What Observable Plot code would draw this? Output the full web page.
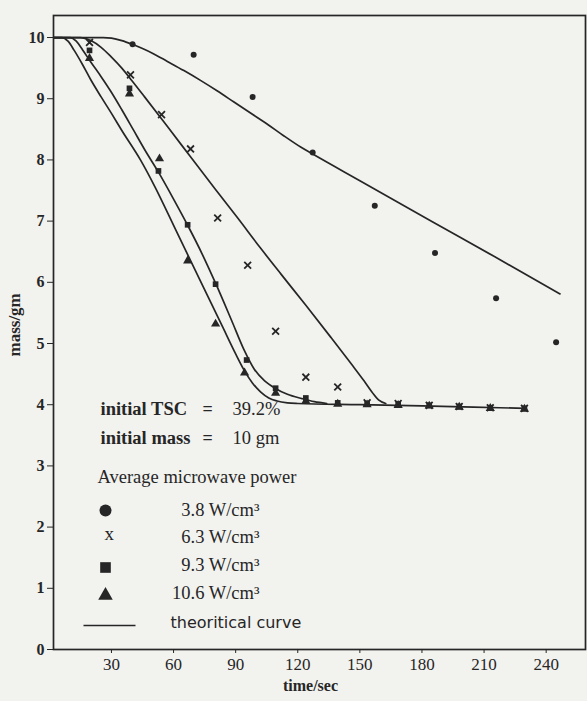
<!DOCTYPE html>
<html><head><meta charset="utf-8">
<script src="https://cdn.jsdelivr.net/npm/d3@7"></script>
<script src="https://cdn.jsdelivr.net/npm/@observablehq/plot@0.6"></script>
<style>
html,body{margin:0;padding:0;background:#f2f2ef;}
#chart{width:587px;height:701px;overflow:hidden;}
</style></head><body><div id="chart"></div>
<script>
// ---- tick labels ----
const xTicks = [30, 60, 90, 120, 150, 180, 210, 240];
const yTicks = [0, 1, 2, 3, 4, 5, 6, 7, 8, 9, 10];

// ---- measured points (time/sec, mass/gm) ----
const p38T = [40.2, 69.7, 98.2, 127.2, 157.2, 186.3, 215.8, 244.8];
const p38M = [9.89, 9.72, 9.03, 8.12, 7.25, 6.48, 5.74, 5.02];

const p63T = [19.4, 39.2, 54.2, 68.2, 81.3, 95.8, 109.3, 123.9, 139.3, 153.5, 168.5, 183.5, 198, 213, 229.5];
const p63M = [9.92, 9.39, 8.74, 8.18, 7.05, 6.28, 5.2, 4.45, 4.29, 4.03, 4.02, 3.99, 3.97, 3.95, 3.94];

const p93T = [19.4, 38.7, 52.7, 66.8, 80.3, 95.3, 109.3, 123.9, 139.3, 153.5, 168.5, 183.5, 198, 213, 229.5];
const p93M = [9.79, 9.17, 7.82, 6.94, 5.97, 4.73, 4.27, 4.11, 4.03, 4.02, 4.01, 3.99, 3.97, 3.95, 3.94];

const p106T = [19.4, 38.7, 53.2, 66.8, 80.3, 94.3, 109.3, 123.9, 139.3, 153.5, 168.5, 183.5, 198, 213, 229.5];
const p106M = [9.66, 9.08, 8.02, 6.35, 5.32, 4.52, 4.19, 4.06, 4.01, 4.0, 3.99, 3.98, 3.96, 3.94, 3.93];

// ---- theoretical curves ----
const c38T = [0, 26, 30, 35, 40, 45, 50, 57, 65, 73, 81, 89, 97, 105.5, 113, 121.4, 127, 150, 185, 215, 246.7];
const c38M = [10, 10, 9.99, 9.95, 9.89, 9.82, 9.74, 9.61, 9.46, 9.3, 9.13, 8.95, 8.77, 8.58, 8.4, 8.21, 8.1, 7.66, 6.99, 6.42, 5.81];

const c63T = [0, 15, 20, 25, 30, 35, 40, 46, 57.6, 68, 80, 91, 102, 112, 124, 136, 146, 152, 156, 159, 162.5];
const c63M = [10, 10, 9.95, 9.84, 9.68, 9.5, 9.29, 9.03, 8.52, 8.06, 7.53, 7.05, 6.56, 6.13, 5.62, 5.1, 4.66, 4.39, 4.2, 4.08, 4.02];

const c93T = [0, 10, 13, 16, 20, 25, 29.5, 35, 40.6, 46, 52.7, 60, 67, 74, 80.5, 88, 94, 99, 104, 109, 115, 122, 128, 134];
const c93M = [10, 10, 9.94, 9.8, 9.6, 9.36, 9.13, 8.82, 8.49, 8.17, 7.8, 7.36, 6.92, 6.45, 5.97, 5.38, 4.9, 4.58, 4.39, 4.27, 4.17, 4.1, 4.05, 4.02];

const c106T = [0, 6, 9, 12, 16, 20, 25, 30, 35, 44, 51, 61, 73, 84, 90, 94, 98, 102, 106, 110, 115, 120, 150, 180, 205, 230];
const c106M = [10, 10, 9.94, 9.79, 9.56, 9.31, 9.03, 8.76, 8.48, 8.0, 7.56, 6.86, 6.02, 5.25, 4.83, 4.57, 4.36, 4.21, 4.11, 4.06, 4.03, 4.02, 4.0, 3.98, 3.96, 3.94];

// ---- annotation text ----
const infoLabels = ["initial TSC", "initial mass"];
const infoValues = ["39.2%", "10 gm"];
const legendTitle = "Average microwave power";
const legendLabels = ["3.8 W/cm³", "6.3 W/cm³", "9.3 W/cm³", "10.6 W/cm³"];
const curveLabel = "theoritical curve";

// ---- styling / layout (not data) ----
const ink = "#262626";
const serif = "'Liberation Serif', 'Times New Roman', serif";
const pts = (t, m) => t.map((d, i) => ({t: d, m: m[i]}));
const infoDy = [-235, -206];
const legDotDy = [-139, -108, -82, -54];
const legTextDy = [-134, -107, -79, -51];
const hline = {draw(ctx) { ctx.moveTo(-26, 0); ctx.lineTo(26, 0); }};

const curves = [[c38T, c38M], [c63T, c63M], [c93T, c93M], [c106T, c106M]];

const marks = [
  Plot.frame({stroke: ink, strokeWidth: 1.7}),
  Plot.axisX({ticks: xTicks, tickSize: 4, tickPadding: 4, fontSize: 17, label: null, stroke: ink, fill: ink}),
  Plot.axisY({ticks: yTicks, tickSize: 6, tickPadding: 3, fontSize: 16, fontWeight: "bold", label: null, stroke: ink, fill: ink}),
  ...curves.map(([t, m]) => Plot.line(pts(t, m), {x: "t", y: "m", curve: "monotone-x", stroke: ink, strokeWidth: 1.7, clip: true})),
  Plot.dot(pts(p38T, p38M), {x: "t", y: "m", r: 3, fill: ink, stroke: "none"}),
  Plot.dot(pts(p63T, p63M), {x: "t", y: "m", r: 3.2, symbol: "times", stroke: ink, strokeWidth: 1.8}),
  Plot.dot(pts(p93T, p93M), {x: "t", y: "m", r: 3.2, symbol: "square", fill: ink, stroke: "none"}),
  Plot.dot(pts(p106T, p106M), {x: "t", y: "m", r: 3.4, symbol: "triangle", fill: ink, stroke: "none"}),
  // axis titles
  Plot.text(["mass/gm"], {text: d => d, frameAnchor: "left", rotate: -90, dx: -39, dy: 24, fontSize: 17, fontWeight: "bold", fill: ink}),
  Plot.text(["time/sec"], {text: d => d, frameAnchor: "bottom", dx: -9, dy: 41, fontSize: 16, fontWeight: "bold", fill: ink}),
  // info lines
  ...infoLabels.map((s, i) => Plot.text([s], {text: d => d, frameAnchor: "bottom-left", dx: 47, dy: infoDy[i], textAnchor: "start", fontSize: 18.5, fontWeight: "bold", fill: ink})),
  ...infoLabels.map((s, i) => Plot.text(["="], {text: d => d, frameAnchor: "bottom-left", dx: 154, dy: infoDy[i], textAnchor: "middle", fontSize: 18, fontWeight: "bold", fill: ink})),
  ...infoValues.map((s, i) => Plot.text([s], {text: d => d, frameAnchor: "bottom-left", dx: 179, dy: infoDy[i], textAnchor: "start", fontSize: 18.5, fill: ink})),
  Plot.text([legendTitle], {text: d => d, frameAnchor: "bottom-left", dx: 44, dy: -167, textAnchor: "start", fontSize: 18.5, fill: ink}),
  // legend symbols
  Plot.dot([0], {frameAnchor: "bottom-left", dx: 52, dy: legDotDy[0], r: 6, fill: ink, stroke: "none"}),
  Plot.text(["x"], {text: d => d, frameAnchor: "bottom-left", dx: 51, dy: legDotDy[1] - 2, fontSize: 19, fill: ink}),
  Plot.dot([0], {frameAnchor: "bottom-left", dx: 52, dy: legDotDy[2], r: 6, symbol: "square", fill: ink, stroke: "none"}),
  Plot.dot([0], {frameAnchor: "bottom-left", dx: 52, dy: legDotDy[3], r: 5.4, symbol: "triangle", fill: ink, stroke: "none"}),
  Plot.dot([0], {frameAnchor: "bottom-left", dx: 56, dy: -24, symbol: hline, r: 5, stroke: ink, strokeWidth: 1.6, fill: "none"}),
  ...legendLabels.map((s, i) => Plot.text([s], {text: d => d, frameAnchor: "bottom-left", dx: 206, dy: legTextDy[i], textAnchor: "end", fontSize: 18.5, fill: ink})),
  Plot.text([curveLabel], {text: d => d, frameAnchor: "bottom-left", dx: 117, dy: -22, textAnchor: "start", fontSize: 16, fontFamily: "'DejaVu Sans', sans-serif", fill: ink})
];

const chart = Plot.plot({
  width: 587, height: 701,
  marginLeft: 53, marginRight: 2, marginTop: 15, marginBottom: 52,
  style: {background: "#f2f2ef", fontFamily: serif, color: ink, overflow: "visible"},
  x: {domain: [2, 259]},
  y: {domain: [0, 10.36]},
  marks
});
document.getElementById("chart").append(chart);
</script></body></html>
